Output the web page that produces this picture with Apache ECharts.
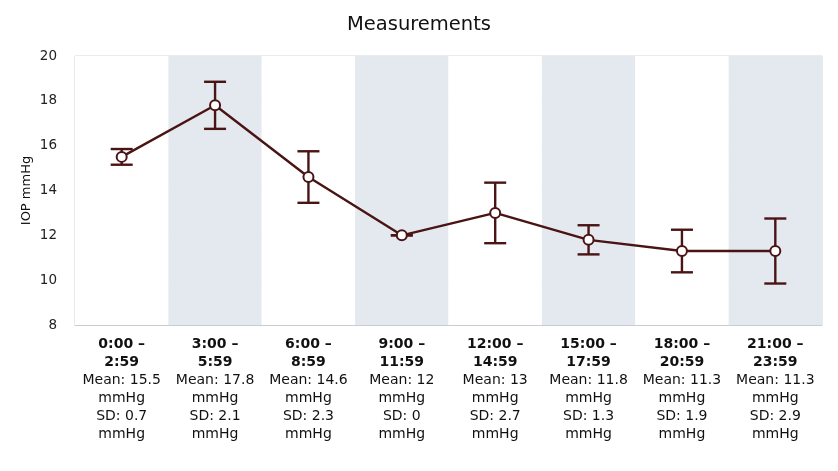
<!DOCTYPE html>
<html><head><meta charset="utf-8">
<script src="https://cdn.jsdelivr.net/npm/echarts@6/dist/echarts.min.js"></script>
<style>html,body{margin:0;padding:0;background:#fff}#c{width:838px;height:471px}</style>
</head><body><div id="c"></div>
<script>
const timeRanges = ['0:00 –\n2:59','3:00 –\n5:59','6:00 –\n8:59','9:00 –\n11:59','12:00 –\n14:59','15:00 –\n17:59','18:00 –\n20:59','21:00 –\n23:59'];
const means = [15.5, 17.8, 14.6, 12, 13, 11.8, 11.3, 11.3];
const sds = [0.7, 2.1, 2.3, 0, 2.7, 1.3, 1.9, 2.9];
const errLow = [15.15, 16.75, 13.45, 12, 11.65, 11.15, 10.35, 9.85];
const errHigh = [15.85, 18.85, 15.75, 12, 14.35, 12.45, 12.25, 12.75];
const yTicks = [8, 10, 12, 14, 16, 18, 20];

const color = '#4a1414';
const cats = timeRanges.map((t, i) => {
  const parts = t.split('\n');
  return parts.map(p => '{b|' + p + '}').join('\n') +
    '\n{n|Mean: ' + means[i] + '}\n{n|mmHg}\n{n|SD: ' + sds[i] + '}\n{n|mmHg}';
});
const errData = errLow.map((lo, i) => [i, lo, errHigh[i]]);

const chart = echarts.init(document.getElementById('c'));
chart.setOption({
  animation: false,
  title: { text: 'Measurements', left: 'center', top: 10,
    textStyle: { fontFamily: 'DejaVu Sans', fontSize: 19.5, fontWeight: 'normal', color: '#111' } },
  grid: { left: 75, right: 16, top: 56, bottom: 146, show: true, borderColor: '#d6d6d6', borderWidth: 1 },
  xAxis: {
    type: 'category', data: cats, boundaryGap: true,
    axisLine: { lineStyle: { color: '#c8ccd4' } },
    axisTick: { show: false },
    splitArea: { show: true, areaStyle: { color: ['#ffffff', '#e4e9f0'] } },
    axisLabel: { interval: 0, margin: 10, formatter: v => v,
      rich: {
        b: { fontFamily: 'DejaVu Sans', fontSize: 14, fontWeight: 'bold', color: '#111', lineHeight: 18 },
        n: { fontFamily: 'DejaVu Sans', fontSize: 14, color: '#111', lineHeight: 18 }
      } }
  },
  yAxis: {
    type: 'value', min: yTicks[0], max: yTicks[yTicks.length - 1], interval: 2,
    name: 'IOP mmHg', nameLocation: 'middle', nameGap: 42, nameMoveOverlap: false,
    nameTextStyle: { fontFamily: 'DejaVu Sans', fontSize: 13, color: '#111' },
    axisLine: { show: false }, axisTick: { show: false },
    axisLabel: { fontFamily: 'DejaVu Sans', fontSize: 13.5, color: '#222', margin: 18 },
    splitLine: { lineStyle: { color: '#dedede' } }
  },
  series: [
    {
      type: 'custom', z: 2, data: errData,
      renderItem: (params, api) => {
        const x = api.value(0);
        const lo = api.coord([x, api.value(1)]);
        const hi = api.coord([x, api.value(2)]);
        const w = 11;
        const st = { stroke: color, lineWidth: 2.4 };
        return { type: 'group', children: [
          { type: 'line', shape: { x1: lo[0], y1: lo[1], x2: hi[0], y2: hi[1] }, style: st },
          { type: 'line', shape: { x1: lo[0] - w, y1: lo[1], x2: lo[0] + w, y2: lo[1] }, style: st },
          { type: 'line', shape: { x1: hi[0] - w, y1: hi[1], x2: hi[0] + w, y2: hi[1] }, style: st }
        ] };
      }
    },
    {
      type: 'line', z: 3, data: means, symbol: 'circle', symbolSize: 10,
      lineStyle: { color: color, width: 2.4 },
      itemStyle: { color: '#fff', borderColor: color, borderWidth: 2 }
    }
  ]
});
</script></body></html>
